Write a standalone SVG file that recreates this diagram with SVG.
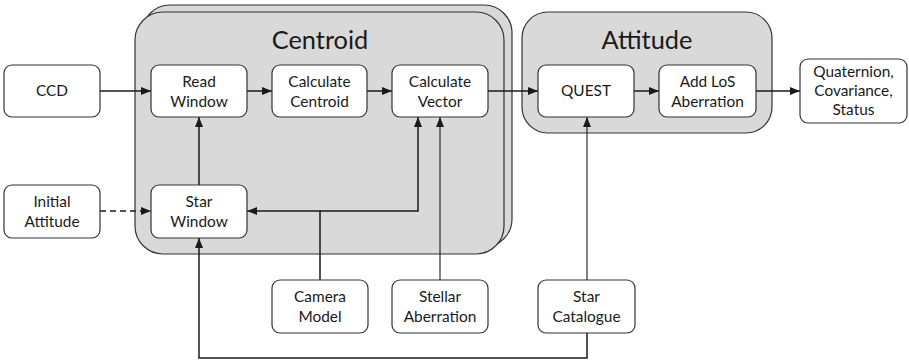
<svg xmlns="http://www.w3.org/2000/svg" width="909" height="360" viewBox="0 0 909 360">
  <defs>
    <marker id="arr" viewBox="0 0 10 8" refX="10" refY="4" markerWidth="10" markerHeight="8" markerUnits="userSpaceOnUse" orient="auto">
      <path d="M0,0 L10,4 L0,8 Z" fill="#1a1a1a"/>
    </marker>
  </defs>
  <style>
    .panel { fill: #d9d9d9; stroke: #333; stroke-width: 1.2; }
    .box { fill: #fff; stroke: #333; stroke-width: 1.2; }
    .lbl { font-family: Lato, "Open Sans", "Liberation Sans", sans-serif; font-size: 15.4px; fill: #1a1a1a; text-anchor: middle; }
    .title { font-family: Lato, "Open Sans", "Liberation Sans", sans-serif; font-size: 25.4px; fill: #1a1a1a; text-anchor: middle; }
    .wire { fill: none; stroke: #1a1a1a; stroke-width: 1.5; }
    .thin { fill: none; stroke: #1a1a1a; stroke-width: 1.1; }
  </style>

  <!-- Stage panels -->
  <g id="centroid">
    <rect class="panel" x="142" y="5" width="370" height="242" rx="28"/>
    <rect class="panel" x="135" y="12" width="369" height="242" rx="28"/>
    <text class="title" x="320" y="49">Centroid</text>
  </g>
  <g id="attitude">
    <rect class="panel" x="522" y="12" width="250" height="121" rx="26"/>
    <text class="title" x="647" y="49">Attitude</text>
  </g>

  <!-- Connectors -->
  <g id="connectors">
    <line class="wire" x1="100" y1="91" x2="151" y2="91" marker-end="url(#arr)"/>
    <line class="wire" x1="247" y1="91" x2="272" y2="91" marker-end="url(#arr)"/>
    <line class="wire" x1="367" y1="91" x2="392" y2="91" marker-end="url(#arr)"/>
    <line class="wire" x1="488" y1="91" x2="538" y2="91" marker-end="url(#arr)"/>
    <line class="wire" x1="634" y1="91" x2="659" y2="91" marker-end="url(#arr)"/>
    <line class="wire" x1="756" y1="91" x2="800" y2="91" marker-end="url(#arr)"/>
    <line class="wire" x1="199" y1="185" x2="199" y2="117" marker-end="url(#arr)"/>
    <line class="wire" x1="100" y1="211" x2="151" y2="211" stroke-dasharray="6,4" marker-end="url(#arr)"/>
    <path class="wire" d="M320,280 V211 H247" marker-end="url(#arr)"/>
    <path class="wire" d="M320,211 H418 V117" marker-end="url(#arr)"/>
    <line class="thin" x1="440" y1="280" x2="440" y2="117" marker-end="url(#arr)"/>
    <line class="thin" x1="587" y1="280" x2="587" y2="117" marker-end="url(#arr)"/>
    <path class="wire" d="M587,333 V358 H199 V238" marker-end="url(#arr)"/>
  </g>

  <!-- Nodes -->
  <g id="ccd">
    <rect class="box" x="4" y="65" width="96" height="52" rx="8"/>
    <text class="lbl" x="52" y="96">CCD</text>
  </g>
  <g id="read-window">
    <rect class="box" x="151" y="65" width="96" height="52" rx="8"/>
    <text class="lbl" x="199" y="87">Read</text>
    <text class="lbl" x="199" y="107">Window</text>
  </g>
  <g id="calc-centroid">
    <rect class="box" x="272" y="65" width="95" height="52" rx="8"/>
    <text class="lbl" x="319.5" y="87">Calculate</text>
    <text class="lbl" x="319.5" y="107">Centroid</text>
  </g>
  <g id="calc-vector">
    <rect class="box" x="392" y="65" width="96" height="52" rx="8"/>
    <text class="lbl" x="440" y="87">Calculate</text>
    <text class="lbl" x="440" y="107">Vector</text>
  </g>
  <g id="quest">
    <rect class="box" x="538" y="65" width="96" height="52" rx="8"/>
    <text class="lbl" x="586" y="96">QUEST</text>
  </g>
  <g id="add-los">
    <rect class="box" x="659" y="65" width="97" height="52" rx="8"/>
    <text class="lbl" x="707.5" y="87">Add LoS</text>
    <text class="lbl" x="707.5" y="107">Aberration</text>
  </g>
  <g id="output">
    <rect class="box" x="800" y="59" width="107" height="64" rx="8"/>
    <text class="lbl" x="853.5" y="77">Quaternion,</text>
    <text class="lbl" x="853.5" y="96">Covariance,</text>
    <text class="lbl" x="853.5" y="115">Status</text>
  </g>
  <g id="initial-attitude">
    <rect class="box" x="4" y="185" width="96" height="53" rx="8"/>
    <text class="lbl" x="52" y="207">Initial</text>
    <text class="lbl" x="52" y="227">Attitude</text>
  </g>
  <g id="star-window">
    <rect class="box" x="151" y="185" width="96" height="53" rx="8"/>
    <text class="lbl" x="199" y="207">Star</text>
    <text class="lbl" x="199" y="227">Window</text>
  </g>
  <g id="camera-model">
    <rect class="box" x="272" y="280" width="96" height="53" rx="8"/>
    <text class="lbl" x="320" y="302">Camera</text>
    <text class="lbl" x="320" y="322">Model</text>
  </g>
  <g id="stellar-aberration">
    <rect class="box" x="392" y="280" width="96" height="53" rx="8"/>
    <text class="lbl" x="440" y="302">Stellar</text>
    <text class="lbl" x="440" y="322">Aberration</text>
  </g>
  <g id="star-catalogue">
    <rect class="box" x="538" y="280" width="97" height="53" rx="8"/>
    <text class="lbl" x="586.5" y="302">Star</text>
    <text class="lbl" x="586.5" y="322">Catalogue</text>
  </g>
</svg>
